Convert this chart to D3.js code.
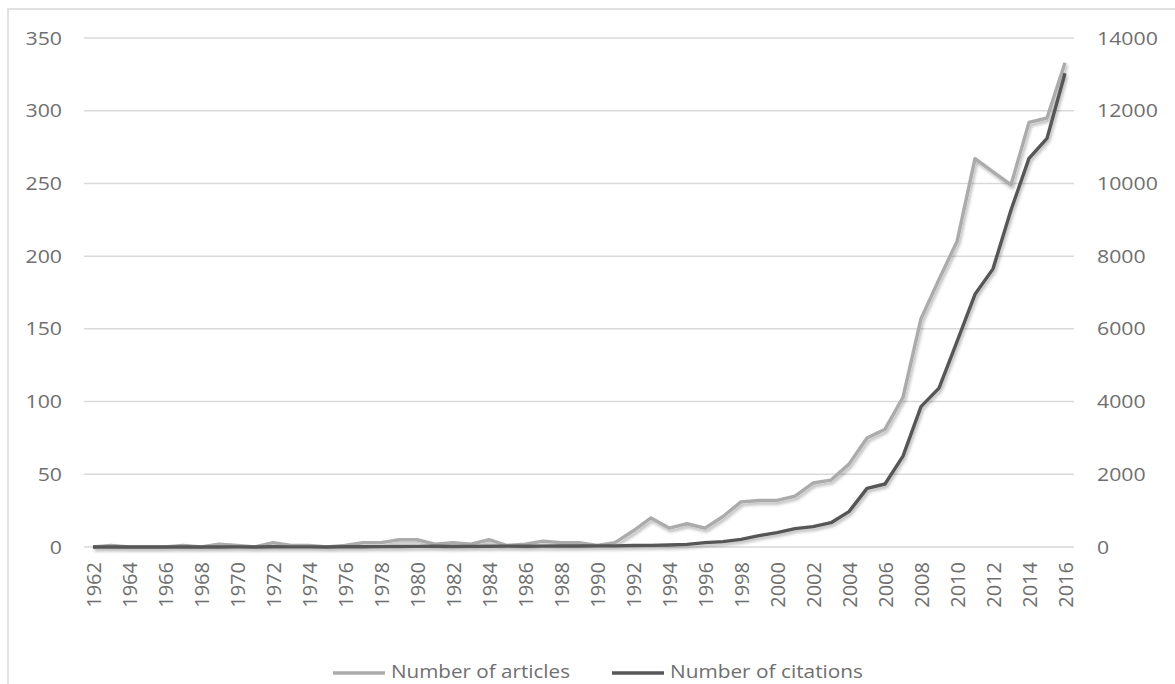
<!DOCTYPE html>
<html>
<head>
<meta charset="utf-8">
<script src="https://cdn.jsdelivr.net/npm/d3@7"></script>
<style>
  html, body { margin: 0; padding: 0; background: #fff; }
  svg { display: block; }
  text { font-family: "Open Sans", "Noto Sans", sans-serif; fill: #6f6f6f; }
</style>
</head>
<body>
<script>
// Years on the category axis
const years = d3.range(1962, 2017);

// Articles published per year (left axis)
const articles = [
  0, 1, 0, 0, 0, 1, 0, 2, 1, 0,
  3, 1, 1, 0, 1, 3, 3, 5, 5, 2,
  3, 2, 5, 1, 2, 4, 3, 3, 1, 3,
  11, 20, 13, 16, 13, 21, 31, 32, 32, 35,
  44, 46, 57, 75, 81, 103, 157, 184, 210, 267,
  258, 249, 292, 295, 333
];

// Citations received per year (right axis)
const citations = [
  0, 0, 0, 0, 1, 0, 2, 1, 3, 2,
  5, 3, 4, 2, 6, 8, 10, 14, 18, 20,
  15, 18, 22, 25, 20, 24, 28, 26, 30, 30,
  40, 46, 55, 73, 119, 147, 211, 311, 394, 504,
  559, 669, 972, 1613, 1733, 2500, 3860, 4370, 5650, 6950,
  7650, 9270, 10690, 11240, 13030
];

const leftTicks = [0, 50, 100, 150, 200, 250, 300, 350];
const rightTicks = [0, 2000, 4000, 6000, 8000, 10000, 12000, 14000];
const seriesNames = ["Number of articles", "Number of citations"];

const W = 1175, H = 684;
const plot = { left: 84, right: 1074, top: 38, bottom: 547 };

const svg = d3.select("body").append("svg")
  .attr("width", W).attr("height", H);

// soft shadow beneath the series lines
const defs = svg.append("defs");
const f = defs.append("filter").attr("id", "lineShadow")
  .attr("x", "-5%").attr("y", "-5%").attr("width", "110%").attr("height", "115%");
f.append("feDropShadow")
  .attr("dx", 1.5).attr("dy", 2.5).attr("stdDeviation", 1.6)
  .attr("flood-color", "#000").attr("flood-opacity", 0.28);

// chart frame
svg.append("rect")
  .attr("x", 8).attr("y", 9).attr("width", W + 20).attr("height", H + 20)
  .attr("fill", "none").attr("stroke", "#d9d9d9").attr("stroke-width", 1.5);

const x = d3.scalePoint()
  .domain(years)
  .range([plot.left, plot.right])
  .padding(0.5);

const yL = d3.scaleLinear().domain([0, 350]).range([plot.bottom, plot.top]);
const yR = d3.scaleLinear().domain([0, 14000]).range([plot.bottom, plot.top]);

// horizontal gridlines
svg.append("g")
  .selectAll("line")
  .data(leftTicks)
  .join("line")
  .attr("x1", plot.left).attr("x2", plot.right)
  .attr("y1", d => yL(d)).attr("y2", d => yL(d))
  .attr("stroke", "#d9d9d9").attr("stroke-width", 1.5);

// left axis labels (slightly widened glyphs)
const axL = svg.append("g")
  .attr("transform", `translate(${plot.left - 22},0)`)
  .call(d3.axisLeft(yL).tickValues(leftTicks).tickSize(0).tickPadding(0)
    .tickFormat(d3.format("d")));
axL.select(".domain").remove();
axL.selectAll("text")
  .style("font-size", "19px")
  .attr("fill", "#727272")
  .attr("transform", "scale(1.12,1)");

// right axis labels
const axR = svg.append("g")
  .attr("transform", `translate(${plot.right + 23},0)`)
  .call(d3.axisRight(yR).tickValues(rightTicks).tickSize(0).tickPadding(0)
    .tickFormat(d3.format("d")));
axR.select(".domain").remove();
axR.selectAll("text")
  .style("font-size", "19px")
  .attr("fill", "#727272")
  .attr("transform", "scale(1.12,1)");

// category labels, rotated, every second year
const labelYears = years.filter(yr => (yr - 1962) % 2 === 0);
const axB = svg.append("g")
  .attr("transform", `translate(0,${plot.bottom})`)
  .call(d3.axisBottom(x).tickValues(labelYears).tickSize(0).tickPadding(0));
axB.select(".domain").remove();
axB.selectAll("text")
  .style("font-size", "20px")
  .attr("fill", "#727272")
  .attr("text-anchor", "end")
  .attr("dy", null)
  .attr("transform", "translate(0,15) rotate(-90)")
  .attr("x", 0).attr("y", 0)
  .attr("dominant-baseline", "central");

// series lines
const lineL = d3.line().x((d, i) => x(years[i])).y(d => yL(d));
const lineR = d3.line().x((d, i) => x(years[i])).y(d => yR(d));

const lines = svg.append("g").attr("filter", "url(#lineShadow)");
lines.append("path")
  .datum(articles)
  .attr("d", lineL)
  .attr("fill", "none")
  .attr("stroke", "#ababab")
  .attr("stroke-width", 3.4)
  .attr("stroke-linejoin", "round");
lines.append("path")
  .datum(citations)
  .attr("d", lineR)
  .attr("fill", "none")
  .attr("stroke", "#575757")
  .attr("stroke-width", 3.4)
  .attr("stroke-linejoin", "round");

// legend
const legendItems = [
  { name: seriesNames[0], color: "#ababab", x: 333, len: 179 },
  { name: seriesNames[1], color: "#575757", x: 612, len: 193 }
];
const lg = svg.append("g").attr("transform", "translate(0,671)");
const li = lg.selectAll("g").data(legendItems).join("g")
  .attr("transform", d => `translate(${d.x},0)`);
li.append("line")
  .attr("x1", 0).attr("x2", 52).attr("y1", 2).attr("y2", 2)
  .attr("stroke", d => d.color).attr("stroke-width", 3.4);
li.append("text")
  .attr("x", 58).attr("y", 0)
  .attr("dominant-baseline", "central")
  .attr("textLength", d => d.len)
  .attr("lengthAdjust", "spacingAndGlyphs")
  .style("font-size", "18px")
  .text(d => d.name);
</script>
</body>
</html>
